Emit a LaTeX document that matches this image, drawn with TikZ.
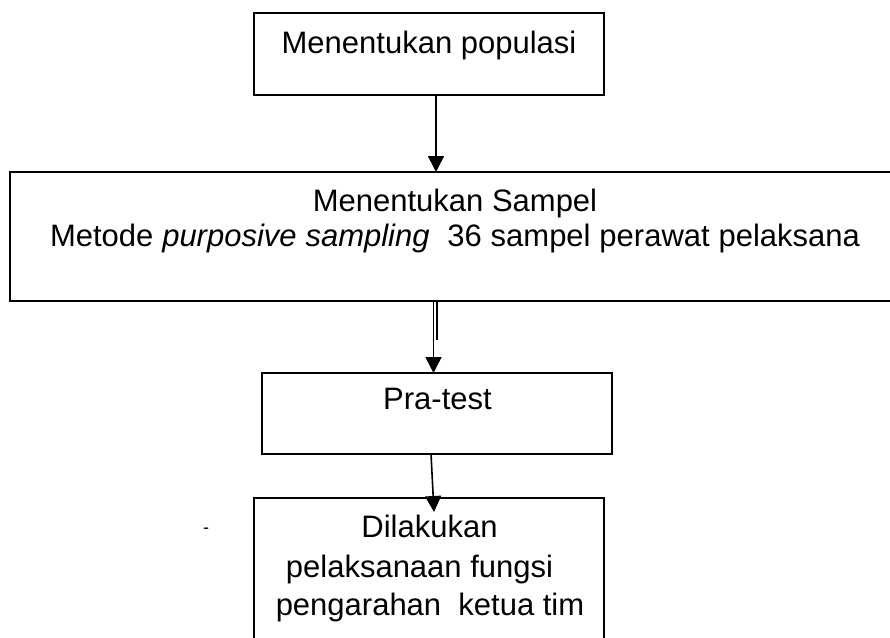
\documentclass[tikz,border=0pt]{standalone}
\usepackage{fontspec}
\setmainfont{Liberation Sans}
\usetikzlibrary{arrows.meta}
\begin{document}
\begin{tikzpicture}[x=1pt,y=-1pt,
  box/.style={draw,line width=1.8pt,inner sep=0pt,outer sep=0pt},
  txt/.style={anchor=base,inner sep=0pt,font=\fontsize{31}{36}\selectfont},
  arr/.style={line width=1.6pt,-{Triangle[width=16pt,length=16pt]}},
  plain/.style={line width=1.2pt}]
\useasboundingbox (0,0) rectangle (890,637);
\clip (0,0) rectangle (890,637);
\fill[white] (0,0) rectangle (890,637);
% boxes
\node[box,minimum width=350pt,minimum height=82pt] (b1) at (429,54) {};
\node[box,minimum width=890pt,minimum height=129pt] (b2) at (455,236.5) {};
\node[box,minimum width=350pt,minimum height=81pt] (b3) at (437,413.5) {};
\node[box,minimum width=350pt,minimum height=162pt] (b4) at (429,579) {};
% texts
\node[txt] (t1) at (429,53) {Menentukan populasi};
\node[txt] (t2a) at (455,211) {Menentukan Sampel};
\node[txt] (t2b) at (455,246) {\makebox[810pt][s]{Metode \textit{purposive sampling}\ \ 36 sampel perawat pelaksana}};
\node[txt] (t3) at (437.5,409) {Pra-test};
\node[txt] (t4a) at (429.5,537) {Dilakukan};
\node[txt] (t4b) at (419.5,577) {pelaksanaan fungsi};
\node[txt] (t4c) at (430,615) {pengarahan\ \ ketua tim};
\node[anchor=base,inner sep=0pt,font=\fontsize{18}{20}\selectfont] (dash) at (206,533) {-};
% connectors
\coordinate (x1) at (436,0);
\coordinate (x2) at (433.5,0);
\coordinate (x2b) at (437,340);
\coordinate (x3a) at (431,0);
\coordinate (tip3) at (434,512);
\draw[arr] (b1.south -| x1) -- (b2.north -| x1);
\draw[arr] (b2.south -| x2) -- (b3.north -| x2);
\draw[plain] (b2.south -| x2b) -- (x2b);
\draw[arr] (b3.south -| x3a) -- (tip3);
\end{tikzpicture}
\end{document}
